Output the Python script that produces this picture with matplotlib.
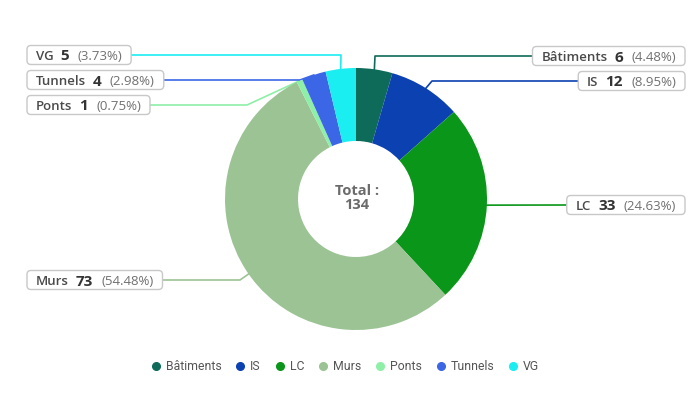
import matplotlib
matplotlib.use('Agg')
import matplotlib.pyplot as plt
import numpy as np
from matplotlib.patches import FancyBboxPatch
from matplotlib.lines import Line2D

# ---- data ----
categories = ['Bâtiments', 'IS', 'LC', 'Murs', 'Ponts', 'Tunnels', 'VG']
values = [6, 12, 33, 73, 1, 4, 5]
pct_labels = ['4.48%', '8.95%', '24.63%', '54.48%', '0.75%', '2.98%', '3.73%']
colors = ['#0e6b5a', '#0b41b0', '#0a9619', '#9bc394', '#8eefa7', '#3b67e6', '#1aeef0']

# ---- layout (pixel units) ----
W, H = 690, 395
CX, CY, R, R_IN = 356, 199, 131, 58
# side, label row y, connector break x
label_layout = {
    'Bâtiments': ('right', 56, 375),
    'IS': ('right', 81, 432),
    'LC': ('right', 205, None),
    'Murs': ('left', 280, 240),
    'Ponts': ('left', 105, 247),
    'Tunnels': ('left', 80, 300),
    'VG': ('left', 55, 341),
}
LEFT_X, RIGHT_X, BOX_H, PAD = 27, 685, 19, 9

FONT = ['Open Sans', 'DejaVu Sans']

fig = plt.figure(figsize=(W / 100, H / 100), dpi=100)
ax = fig.add_axes([0, 0, 1, 1])

def Y(py):
    return H - py

wedges, _ = ax.pie(values, colors=colors, startangle=90, counterclock=False,
                   radius=R, center=(CX, Y(CY)),
                   wedgeprops=dict(width=R - R_IN, linewidth=0, zorder=2))
ax.set_xlim(0, W)
ax.set_ylim(0, H)
ax.set_aspect('equal')
ax.axis('off')

total = sum(values)
renderer = fig.canvas.get_renderer()

cum = 0
for cat, v, pl, col in zip(categories, values, pct_labels, colors):
    frac_mid = (cum + v / 2) / total
    cum += v
    theta = np.deg2rad(90 - 360 * frac_mid)
    ax_x = CX + R * np.cos(theta)
    ax_y = Y(CY) + R * np.sin(theta)
    side, ly, bx = label_layout[cat]

    # text pieces
    pieces = [(cat, 9.5, 'semibold', '#4a4a4a', 7),
              (str(v), 11, 'bold', '#333333', 8),
              ('(%s)' % pl, 9.5, 'normal', '#707070', 0)]
    texts = []
    widths = []
    for s, fs, fw, c, gap in pieces:
        t = ax.text(0, Y(ly), s, fontsize=fs, fontweight=fw, color=c,
                    family=FONT, va='center_baseline', ha='left', zorder=5)
        texts.append(t)
        widths.append(t.get_window_extent(renderer).width)
    inner_w = sum(widths) + sum(p[4] for p in pieces)
    box_w = inner_w + 2 * PAD
    if side == 'left':
        x0 = LEFT_X
        edge_x = LEFT_X + box_w
    else:
        x0 = RIGHT_X - box_w
        edge_x = x0
    x = x0 + PAD
    for t, w, p in zip(texts, widths, pieces):
        t.set_x(x)
        x += w + p[4]
    box = FancyBboxPatch((x0, Y(ly) - BOX_H / 2), box_w, BOX_H,
                         boxstyle='round,pad=0,rounding_size=4',
                         fc='white', ec='#c8c8c8', lw=1.0, zorder=4)
    ax.add_patch(box)

    # connector
    if bx is None:
        xs = [edge_x, ax_x]
        ys = [Y(ly), ax_y]
    else:
        xs = [edge_x, bx, ax_x]
        ys = [Y(ly), Y(ly), ax_y]
    ax.plot(xs, ys, color=col, lw=1.2, zorder=1, solid_joinstyle='round')

ax.text(CX + 1, Y(CY - 1), 'Total :\n%d' % total, ha='center', va='center',
        fontsize=10.5, fontweight='bold', color='#6b6b6b', family=FONT,
        linespacing=0.95, zorder=5)

handles = [Line2D([0], [0], marker='o', color='none', markerfacecolor=c,
                  markeredgecolor=c, markersize=5.5) for c in colors]
leg = fig.legend(handles, categories, loc='center', ncol=len(categories),
                 bbox_to_anchor=(345 / W, 1 - 367 / H), frameon=False,
                 handlelength=0.8, handletextpad=0.4, columnspacing=1.15,
                 prop={'family': ['Roboto', 'DejaVu Sans'], 'size': 8.8})
for t in leg.get_texts():
    t.set_color('#555555')

fig.savefig('out.png', dpi=100)
